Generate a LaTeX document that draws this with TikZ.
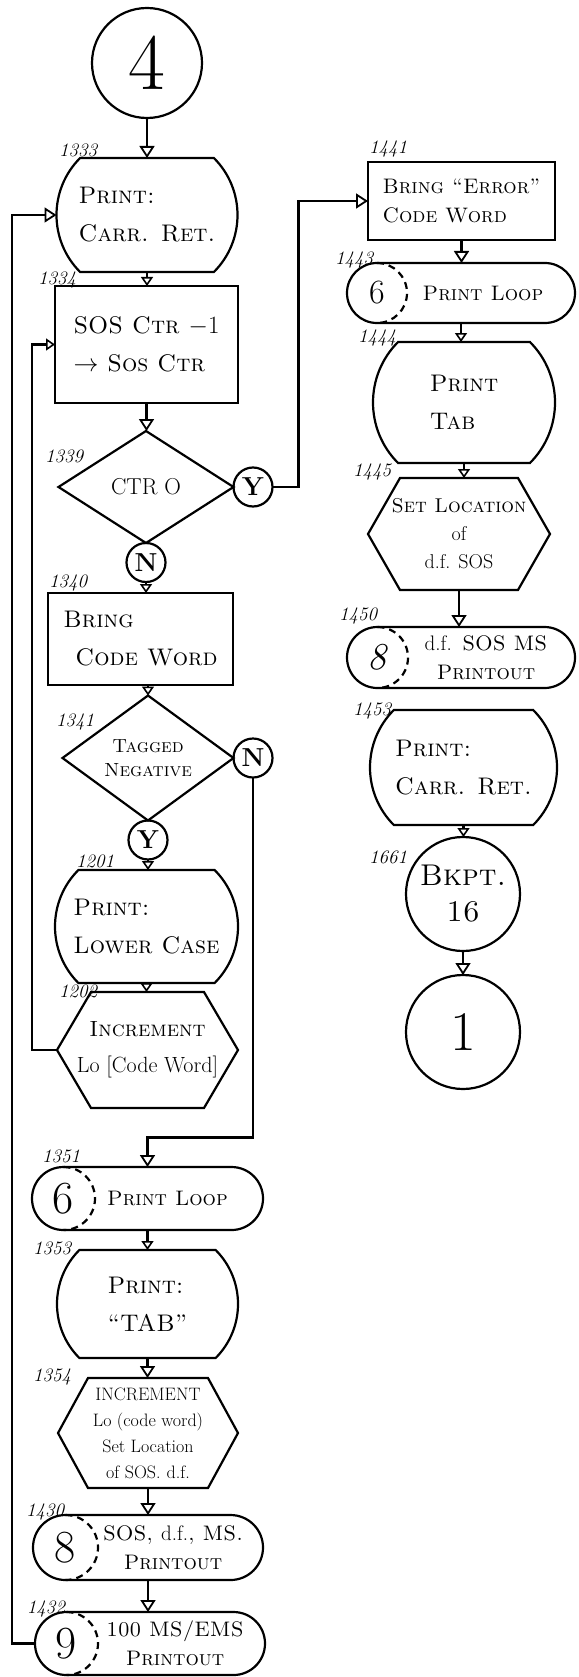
\documentclass[tikz,border=0pt]{standalone}
\usetikzlibrary{shapes.geometric,shapes.misc,arrows.meta,calc}
\newcommand\hexa[2]{\draw[lw] (#1.west) -- ($(#1.north west)+(#2,0)$) -- ($(#1.north east)+(-#2,0)$) -- (#1.east) -- ($(#1.south east)+(-#2,0)$) -- ($(#1.south west)+(#2,0)$) -- cycle;}
\newcommand\dasharc[2]{\draw[lw,dash pattern=on 7pt off 5pt] ($(#1.west)+(#2,-#2)$) arc[start angle=-90,end angle=90,radius=#2];}
\begin{document}
\begin{tikzpicture}[x=1pt,y=-1pt,
  every node/.style={inner sep=0pt,outer sep=0pt},
  lw/.style={line width=2.2pt},
  arr/.style={lw,-{Triangle[open,width=15pt,length=12pt,line width=1.8pt]}},
  sarr/.style={lw,-{Triangle[open,width=12pt,length=9pt,line width=1.6pt]}},
  txt/.style={font=\fontsize{24}{38}\selectfont\scshape,align=left},
  stxt/.style={font=\fontsize{21}{29}\selectfont\scshape,align=left},
  term/.style={draw,lw,rounded rectangle,rounded rectangle arc length=90},
  pill/.style={draw,lw,rounded rectangle},
  box/.style={draw,lw,rectangle},
  dia/.style={draw,lw,diamond},
  hex/.style={rectangle},
  yn/.style={draw,lw,circle,minimum size=39pt,font=\fontsize{26}{26}\selectfont\bfseries},
  conn/.style={draw,lw,circle},
  digit/.style={font=\fontsize{46}{46}\selectfont},
  num/.style={font=\fontsize{19}{19}\selectfont\itshape},
]
\useasboundingbox (0,0) rectangle (578,1677);
% ---------- left column ----------
\node[conn,minimum size=110pt,font=\fontsize{80}{80}\selectfont] (c4) at (147,63) {4};
\node[term,txt,minimum width=181pt,minimum height=114pt] (t1333) at (147,215) {Print:\\Carr. Ret.};
\node[box,txt,minimum width=183pt,minimum height=117pt] (b1334) at (146.5,344.5) {SOS Ctr $-1$\\$\rightarrow$ Sos Ctr};
\node[dia,minimum width=175pt,minimum height=112pt,font=\fontsize{23}{23}\selectfont] (d1339) at (146,487) {CTR O};
\node[yn] (y1) at ($(d1339.east)+(19.5,0)$) {Y};
\node[yn] (n1) at ($(d1339.south)+(0,19.5)$) {N};
\node[box,txt,minimum width=185pt,minimum height=92pt] (b1340) at (140.5,639) {Bring\\\hspace*{12pt}Code Word};
\node[dia,minimum width=171pt,minimum height=107pt,align=center,font=\fontsize{19}{24}\selectfont\scshape] (d1341) at (148,758) {Tagged\\Negative};
\node[yn] (n2) at ($(d1341.east)+(19.5,0)$) {N};
\node[yn] (y2) at ($(d1341.south)+(0,19.5)$) {Y};
\node[term,txt,minimum width=183pt,minimum height=113pt] (t1201) at (146.5,926.5) {Print:\\Lower Case};
\node[hex,align=center,font=\fontsize{22}{36}\selectfont,minimum width=181pt,minimum height=116pt] (h1202) at (147.5,1050) {\textsc{Increment}\\Lo [Code Word]};
\hexa{h1202}{34}
\node[pill,minimum width=231pt,minimum height=63pt] (t1351) at (147.5,1198.5) {};
\dasharc{t1351}{31.5}
\node[digit] (g1351) at ($(t1351.west)+(31,0)$) {6};
\node[stxt] (x1351) at ($(t1351.center)+(20,0)$) {Print Loop};
\node[term,txt,minimum width=181pt,minimum height=108pt] (t1353) at (147.5,1304) {Print:\\``TAB''};
\node[hex,minimum width=180pt,minimum height=110pt,align=center,font=\fontsize{18}{26}\selectfont] (h1354) at (148,1433) {INCREMENT\\Lo (code word)\\Set Location\\of SOS.\hspace{6pt}d.f.};
\hexa{h1354}{30}
\node[pill,minimum width=230pt,minimum height=65pt] (t1430) at (148,1547.5) {};
\dasharc{t1430}{32.5}
\node[digit] (g1430) at ($(t1430.west)+(32,0)$) {8};
\node[stxt,align=center] (x1430) at ($(t1430.center)+(25,0)$) {SOS, {\normalfont d.f.}, MS.\\Printout};
\node[pill,minimum width=230pt,minimum height=63pt] (t1432) at (150,1643.5) {};
\dasharc{t1432}{31.5}
\node[digit] (g1432) at ($(t1432.west)+(31,0)$) {9};
\node[stxt,align=center] (x1432) at ($(t1432.center)+(25,0)$) {100 MS/EMS\\Printout};
% ---------- right column ----------
\node[box,stxt,minimum width=187pt,minimum height=78pt] (b1441) at (461.5,201) {Bring ``Error''\\Code Word};
\node[pill,minimum width=228pt,minimum height=60pt] (t1443) at (461,293) {};
\dasharc{t1443}{30}
\node[digit,font=\fontsize{34}{34}\selectfont] (g1443) at ($(t1443.west)+(30,0)$) {6};
\node[stxt] (x1443) at ($(t1443.center)+(22,0)$) {Print Loop};
\node[term,txt,minimum width=182pt,minimum height=121pt] (t1444) at (464,402.5) {Print\\Tab};
\node[hex,minimum width=182pt,minimum height=112pt,align=center,font=\fontsize{20}{28}\selectfont] (h1445) at (459,534) {\textsc{Set Location}\\of\\d.f. SOS};
\hexa{h1445}{32}
\node[pill,minimum width=228pt,minimum height=61pt] (t1450) at (461,657.5) {};
\dasharc{t1450}{30.5}
\node[digit,font=\fontsize{38}{38}\selectfont\itshape] (g1450) at ($(t1450.west)+(30,0)$) {8};
\node[stxt,align=center] (x1450) at ($(t1450.center)+(25,0)$) {{\normalfont d.f.} SOS MS\\Printout};
\node[term,txt,minimum width=187pt,minimum height=115pt] (t1453) at (463.5,767.5) {Print:\\Carr. Ret.};
\node[conn,minimum size=114pt,font=\fontsize{30}{36}\selectfont\scshape,align=center] (c1661) at (463,894) {Bkpt.\\16};
\node[conn,minimum size=114pt,font=\fontsize{56}{56}\selectfont] (c1) at (463,1032) {1};
% ---------- labels ----------
\node[num] (l1333) at (78,150) {1333};
\node[num] (l1334) at (57,280) {1334};
\node[num] (l1339) at (64,456) {1339};
\node[num] (l1340) at (68,583) {1340};
\node[num] (l1341) at (75,722) {1341};
\node[num] (l1201) at (95,861) {1201};
\node[num] (l1202) at (78,991) {1202};
\node[num] (l1351) at (61,1156) {1351};
\node[num] (l1353) at (52,1248) {1353};
\node[num] (l1354) at (52,1377) {1354};
\node[num] (l1430) at (45,1512) {1430};
\node[num] (l1432) at (46,1609) {1432};
\node[num] (l1441) at (388,149) {1441};
\node[num] (l1443) at (354,260) {1443};
\node[num] (l1444) at (377,338) {1444};
\node[num] (l1445) at (372,472) {1445};
\node[num] (l1450) at (358,616) {1450};
\node[num] (l1453) at (372,711) {1453};
\node[num] (l1661) at (388,857) {1661};
% ---------- connectors ----------
\draw[arr] (c4.south) -- (c4.south |- t1333.north);
\draw[sarr] (t1333.south) -- (t1333.south |- b1334.north);
\draw[arr] (b1334.south) -- (b1334.south |- d1339.north);
\draw[arr] (y1.east) -- ++(26,0) |- (b1441.west);
\draw[sarr] (n1.south) -- (n1.south |- b1340.north);
\draw[sarr] (b1340.south -| d1341.north) -- (d1341.north);
\draw[arr] (n2.south) -- ++(0,360) -| (t1351.north);
\draw[sarr] (y2.south) -- (y2.south |- t1201.north);
\draw[sarr] (t1201.south) -- (t1201.south |- h1202.north);
\draw[sarr] (h1202.west) -- ++(-25,0) |- (b1334.west);
\draw[arr] (t1432.west) -- ++(-23,0) |- (t1333.west);
\draw[sarr] (t1351.south) -- (t1351.south |- t1353.north);
\draw[arr] (t1353.south) -- (t1353.south |- h1354.north);
\draw[arr] (h1354.south) -- (h1354.south |- t1430.north);
\draw[arr] (t1430.south) -- (t1430.south |- t1432.north);
\draw[arr] (b1441.south) -- (b1441.south |- t1443.north);
\draw[sarr] (t1443.south) -- (t1443.south |- t1444.north);
\draw[sarr] (t1444.south) -- (t1444.south |- h1445.north);
\draw[arr] (h1445.south) -- (h1445.south |- t1450.north);
\draw[sarr] (t1453.south) -- (t1453.south |- c1661.north);
\draw[arr] (c1661.south) -- (c1661.south |- c1.north);
\end{tikzpicture}
\end{document}
